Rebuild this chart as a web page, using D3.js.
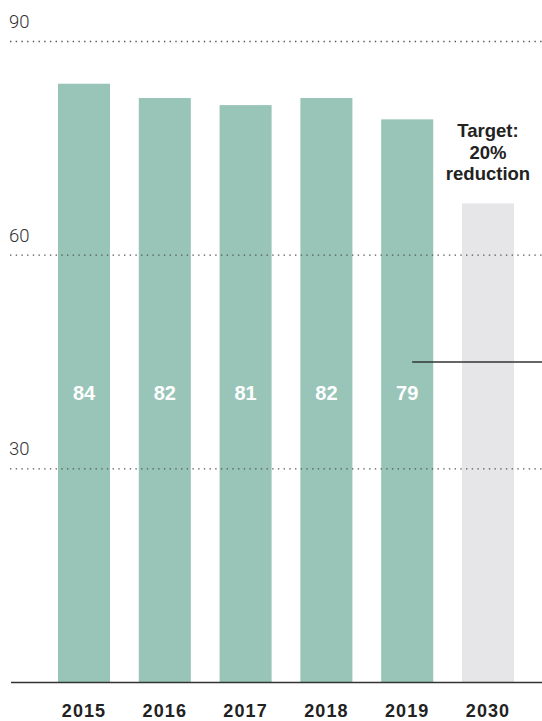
<!DOCTYPE html>
<html>
<head>
<meta charset="utf-8">
<script src="https://cdn.jsdelivr.net/npm/d3@7"></script>
<style>
  html, body { margin: 0; padding: 0; background: #fff; }
  svg { display: block; }
</style>
</head>
<body>
<svg id="chart" width="542" height="721"></svg>
<script>
// Years and emission values; the last entry is the 2030 target
const years = ["2015", "2016", "2017", "2018", "2019", "2030"];
const values = [84, 82, 81, 82, 79, 67.2];
const showValue = [true, true, true, true, true, false];
const isTarget = [false, false, false, false, false, true];
const yTicks = [30, 60, 90];
const targetLines = ["Target:", "20%", "reduction"];

const svg = d3.select("#chart");
const W = 542;

const x = d3.scaleBand()
  .domain(years)
  .range([43.6, 528.4])
  .paddingInner(0.356)
  .paddingOuter(0.178);

const y = d3.scaleLinear()
  .domain([0, 90])
  .range([682, 41]);

const data = years.map((yr, i) => ({ year: yr, value: values[i], label: showValue[i], target: isTarget[i] }));

// Bars
svg.append("g")
  .selectAll("rect")
  .data(data)
  .join("rect")
  .attr("x", d => x(d.year))
  .attr("y", d => y(d.value))
  .attr("width", x.bandwidth())
  .attr("height", d => y(0) - y(d.value))
  .attr("fill", d => d.target ? "#e6e6e8" : "#98c5b8");

// Dotted gridlines drawn over the bars
const grid = svg.append("g");
grid.selectAll("line")
  .data(yTicks)
  .join("line")
  .attr("x1", 10)
  .attr("x2", W)
  .attr("y1", d => y(d) + 0.5)
  .attr("y2", d => y(d) + 0.5)
  .attr("stroke", "#555")
  .attr("stroke-width", 1.4)
  .attr("stroke-dasharray", "1.4,4.3");

grid.selectAll("text")
  .data(yTicks)
  .join("text")
  .attr("x", 9)
  .attr("y", d => y(d) - 13)
  .attr("font-family", "Roboto, 'Liberation Sans', sans-serif")
  .attr("font-weight", 300)
  .attr("font-size", 18.5)
  .attr("fill", "#333")
  .text(d => d);

// Baseline
svg.append("line")
  .attr("x1", 11)
  .attr("x2", W)
  .attr("y1", y(0) + 0.5)
  .attr("y2", y(0) + 0.5)
  .attr("stroke", "#333")
  .attr("stroke-width", 1.3);

// Value labels inside the bars
svg.append("g")
  .selectAll("text")
  .data(data.filter(d => d.label))
  .join("text")
  .attr("x", d => x(d.year) + x.bandwidth() / 2)
  .attr("y", 400)
  .attr("text-anchor", "middle")
  .attr("font-family", "'Liberation Sans', Arial, sans-serif")
  .attr("font-weight", "bold")
  .attr("font-size", 20)
  .attr("fill", "#fff")
  .text(d => d.value);

// Year labels
svg.append("g")
  .selectAll("text")
  .data(data)
  .join("text")
  .attr("x", d => x(d.year) + x.bandwidth() / 2)
  .attr("y", 717)
  .attr("text-anchor", "middle")
  .attr("font-family", "'Liberation Sans', Arial, sans-serif")
  .attr("font-weight", "bold")
  .attr("font-size", 18)
  .attr("letter-spacing", 1.1)
  .attr("fill", "#222")
  .text(d => d.year);

// Target annotation above the 2030 bar
const tx = x("2030") + x.bandwidth() / 2;
svg.append("text")
  .attr("text-anchor", "middle")
  .attr("font-family", "'Liberation Sans', Arial, sans-serif")
  .attr("font-weight", "bold")
  .attr("font-size", 18.5)
  .attr("fill", "#222")
  .selectAll("tspan")
  .data(targetLines)
  .join("tspan")
  .attr("x", tx)
  .attr("y", (d, i) => 137 + i * 21.5)
  .text(d => d);

// Connector line from the 2019 bar across to the edge
svg.append("line")
  .attr("x1", x("2019") + 31)
  .attr("x2", W)
  .attr("y1", 362)
  .attr("y2", 362)
  .attr("stroke", "#333")
  .attr("stroke-width", 1.4);
</script>
</body>
</html>
